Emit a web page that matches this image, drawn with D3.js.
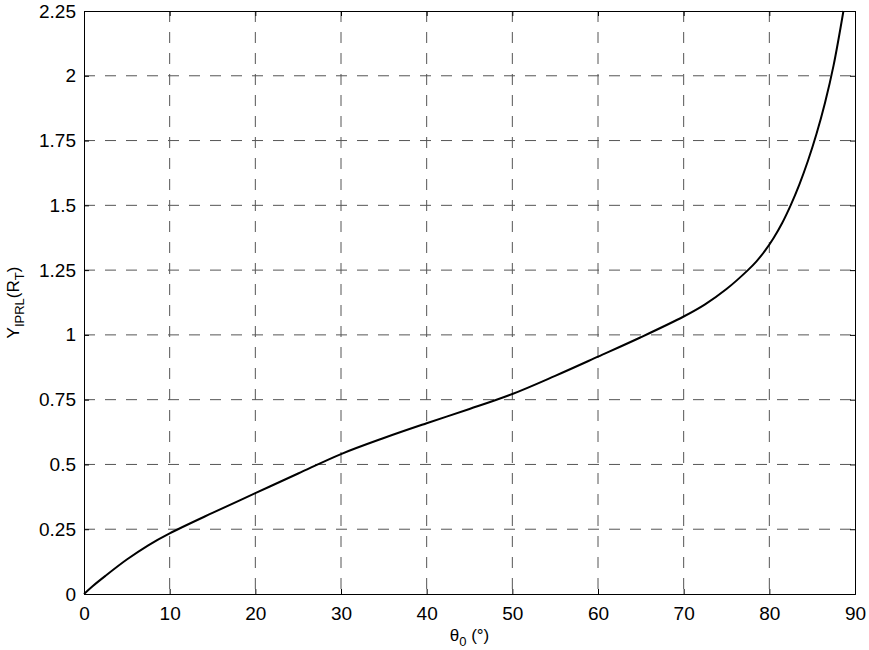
<!DOCTYPE html>
<html>
<head>
<meta charset="utf-8">
<script src="https://cdn.jsdelivr.net/npm/d3@7"></script>
<style>
  body { margin: 0; background: #fff; }
  svg text { font-family: "Liberation Sans", Arial, Helvetica, sans-serif; fill: #000; }
</style>
</head>
<body>
<svg id="chart" width="869" height="650"></svg>
<script>
"use strict";
// curve: theta0 (deg) vs Y_IPRL (R_T)
var theta = [0, 1, 2.5, 5, 7.5, 10, 15, 20, 25, 30, 35, 40, 45, 50, 55, 60, 65, 70, 72.5, 75, 77.5, 78.5, 79.5, 80.5, 81.5, 82.5, 83.5, 84.5, 85.5, 86.5, 87.5, 88.65];
var yiprl = [0, 0.03, 0.07, 0.133, 0.188, 0.234, 0.313, 0.389, 0.465, 0.54, 0.602, 0.659, 0.714, 0.772, 0.842, 0.916, 0.991, 1.071, 1.118, 1.177, 1.25, 1.284, 1.325, 1.374, 1.432, 1.501, 1.58, 1.671, 1.775, 1.896, 2.04, 2.25];
var xTicks = [0, 10, 20, 30, 40, 50, 60, 70, 80, 90];
var yTicks = [0, 0.25, 0.5, 0.75, 1, 1.25, 1.5, 1.75, 2, 2.25];
var yTickLabels = ["0", "0.25", "0.5", "0.75", "1", "1.25", "1.5", "1.75", "2", "2.25"];

var margin = { left: 84, top: 11, right: 14, bottom: 56 };
var svg = d3.select("#chart");
var width = +svg.attr("width") - margin.left - margin.right;
var height = +svg.attr("height") - margin.top - margin.bottom;

var scalex = d3.scaleLinear().domain([0, 90]).range([0, width]);
var scaley = d3.scaleLinear().domain([0, 2.25]).range([height, 0]);

var g = svg.append("g").attr("transform", "translate(" + margin.left + "," + margin.top + ")");

// dashed grid
g.append("g").selectAll("line.gx")
    .data(xTicks.slice(1, -1))
    .enter().append("line")
    .attr("class", "gx")
    .attr("x1", function (d) { return scalex(d); })
    .attr("x2", function (d) { return scalex(d); })
    .attr("y1", 0).attr("y2", height)
    .attr("stroke", "#555").attr("stroke-width", 1).attr("stroke-dasharray", "11,10");
g.append("g").selectAll("line.gy")
    .data(yTicks.slice(1, -1))
    .enter().append("line")
    .attr("class", "gy")
    .attr("x1", 0).attr("x2", width)
    .attr("y1", function (d) { return scaley(d); })
    .attr("y2", function (d) { return scaley(d); })
    .attr("stroke", "#555").attr("stroke-width", 1).attr("stroke-dasharray", "11,10");

// axes, ticks pointing inward
var xAxis = d3.axisBottom(scalex).tickValues(xTicks).tickSize(-5).tickPadding(13).tickFormat(d3.format("d"));
var yAxis = d3.axisLeft(scaley).tickValues(yTicks).tickSize(-5).tickPadding(8)
    .tickFormat(function (d, i) { return yTickLabels[i]; });

var gx = g.append("g").attr("transform", "translate(0," + height + ")").call(xAxis);
var gy = g.append("g").call(yAxis);
g.append("g").call(d3.axisTop(scalex).tickValues(xTicks).tickSize(-5).tickFormat(""));
g.append("g").attr("transform", "translate(" + width + ",0)")
    .call(d3.axisRight(scaley).tickValues(yTicks).tickSize(-5).tickFormat(""));

g.selectAll(".domain").attr("stroke", "#000").attr("stroke-width", 1);
g.selectAll(".tick line").attr("stroke", "#000");
[gx, gy].forEach(function (a) {
    a.selectAll("text").attr("font-size", 19).attr("font-family", "Liberation Sans, Arial, sans-serif").attr("fill", "#000");
});
gx.selectAll("text").attr("dy", "0.71em");

// the curve
var pts = theta.map(function (t, i) { return [t, yiprl[i]]; });
var line = d3.line()
    .x(function (d) { return scalex(d[0]); })
    .y(function (d) { return scaley(d[1]); })
    .curve(d3.curveCatmullRom.alpha(0.5));
g.append("path")
    .datum(pts)
    .attr("d", line)
    .attr("fill", "none")
    .attr("stroke", "#000")
    .attr("stroke-width", 2);

// axis labels
var xl = svg.append("text")
    .attr("x", margin.left + width / 2)
    .attr("y", 641)
    .attr("text-anchor", "middle")
    .attr("font-size", 17);
xl.append("tspan").text("\u03b8");
xl.append("tspan").attr("font-size", 13).attr("dy", 5).text("0");
xl.append("tspan").attr("dy", -5).text(" (\u00b0)");

var yl = svg.append("text")
    .attr("transform", "translate(19," + (margin.top + height / 2) + ") rotate(-90)")
    .attr("text-anchor", "middle")
    .attr("font-size", 17);
yl.append("tspan").text("Y");
yl.append("tspan").attr("font-size", 13).attr("dy", 5).text("IPRL");
yl.append("tspan").attr("dy", -5).text("(R");
yl.append("tspan").attr("font-size", 13).attr("dy", 5).text("T");
yl.append("tspan").attr("dy", -5).text(")");
</script>
</body>
</html>
